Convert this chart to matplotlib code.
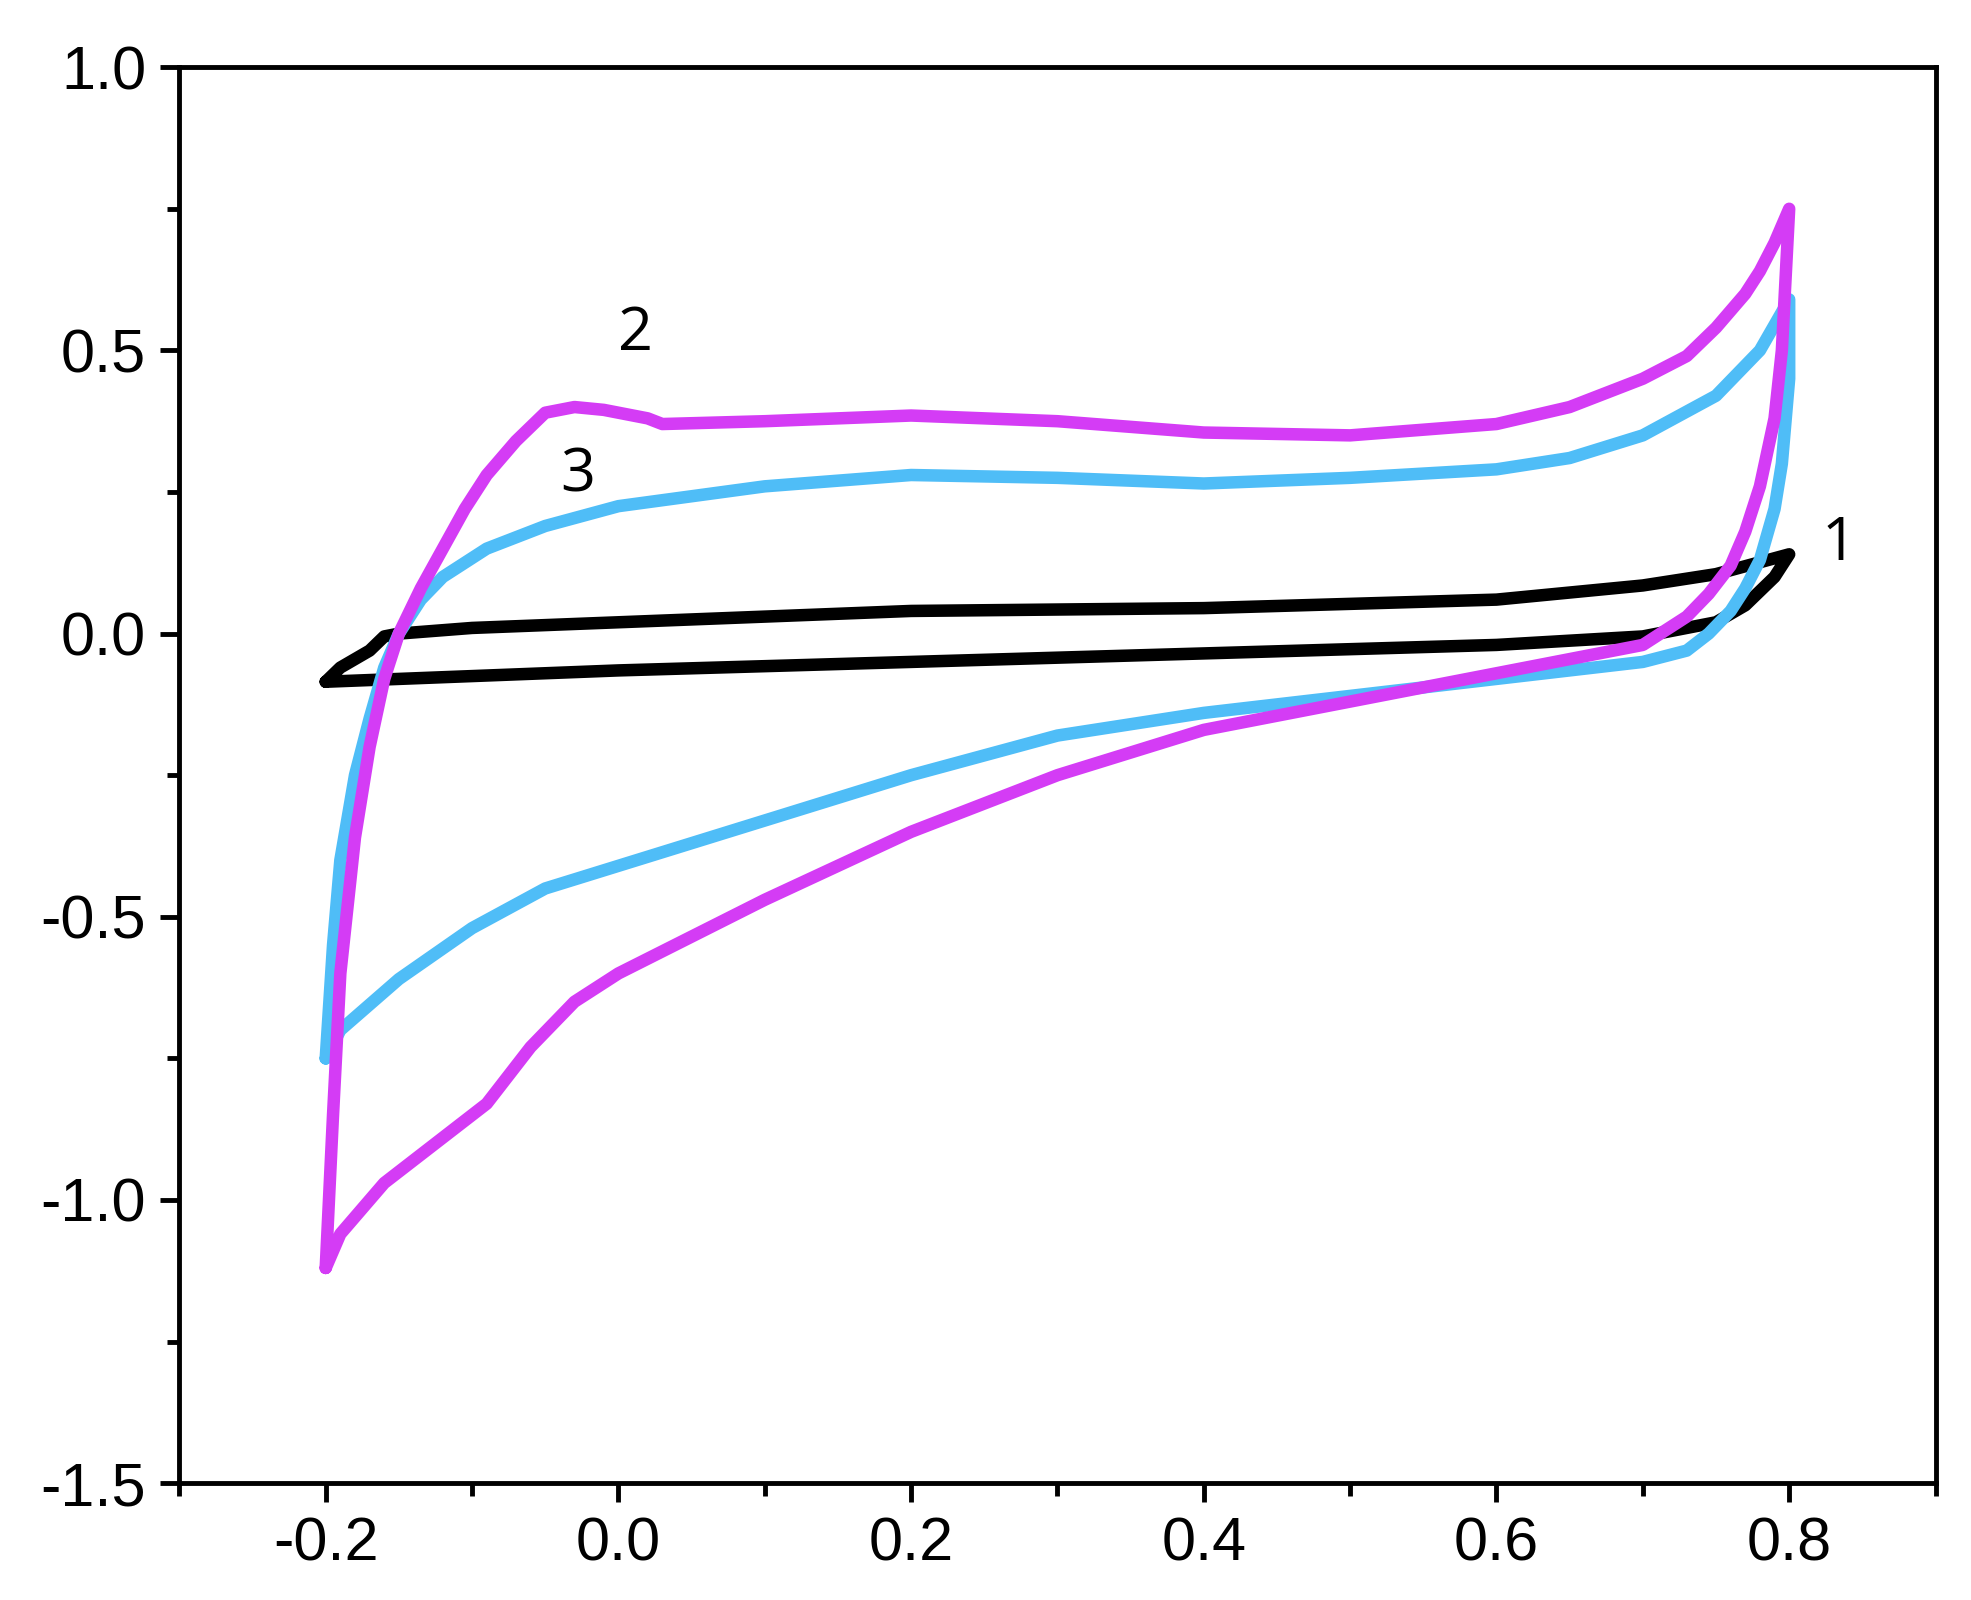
import matplotlib
matplotlib.use("Agg")
import matplotlib.pyplot as plt
import numpy as np

c2_x = [-0.2,-0.195,-0.19,-0.18,-0.17,-0.16,-0.15,-0.135,-0.12,-0.105,-0.09,-0.07,-0.05,-0.03,-0.01,0.0,0.02,0.03,0.1,0.2,0.3,0.4,0.5,0.6,0.65,0.7,0.73,0.75,0.77,0.78,0.79,0.80,
        0.795,0.79,0.78,0.77,0.76,0.745,0.73,0.7,0.6,0.5,0.4,0.3,0.2,0.1,0.0,-0.03,-0.06,-0.09,-0.12,-0.16,-0.19,-0.2]
c2_y = [-1.12,-0.85,-0.6,-0.36,-0.2,-0.08,0.0,0.08,0.15,0.22,0.28,0.34,0.39,0.40,0.395,0.39,0.38,0.37,0.375,0.385,0.375,0.355,0.35,0.37,0.40,0.45,0.49,0.54,0.60,0.64,0.69,0.75,
        0.5,0.38,0.26,0.18,0.12,0.07,0.03,-0.02,-0.07,-0.12,-0.17,-0.25,-0.35,-0.47,-0.6,-0.65,-0.73,-0.83,-0.89,-0.97,-1.06,-1.12]
c3_x = [-0.2,-0.195,-0.19,-0.18,-0.17,-0.16,-0.15,-0.135,-0.12,-0.09,-0.05,0.0,0.1,0.2,0.3,0.4,0.5,0.6,0.65,0.7,0.75,0.78,0.80,
        0.8,0.795,0.79,0.78,0.77,0.76,0.745,0.73,0.7,0.6,0.5,0.4,0.3,0.2,0.1,0.0,-0.05,-0.1,-0.15,-0.19,-0.2]
c3_y = [-0.75,-0.55,-0.4,-0.25,-0.15,-0.06,0.0,0.06,0.1,0.15,0.19,0.225,0.26,0.28,0.275,0.265,0.275,0.29,0.31,0.35,0.42,0.5,0.59,
        0.45,0.3,0.22,0.13,0.08,0.04,0.0,-0.03,-0.05,-0.08,-0.11,-0.14,-0.18,-0.25,-0.33,-0.41,-0.45,-0.52,-0.61,-0.7,-0.75]
c1_x = [-0.2,-0.19,-0.17,-0.16,-0.15,-0.1,0.0,0.2,0.4,0.6,0.7,0.75,0.8,
        0.79,0.77,0.75,0.7,0.6,0.4,0.2,0.0,-0.2]
c1_y = [-0.085,-0.06,-0.03,-0.005,0.0,0.01,0.02,0.04,0.045,0.06,0.085,0.105,0.14,
        0.1,0.05,0.02,-0.005,-0.02,-0.035,-0.05,-0.065,-0.085]

fig = plt.figure(figsize=(19.71,16), dpi=100)
ax = fig.add_axes([0.091,0.073,0.891,0.885])
kw = dict(lw=9, solid_joinstyle='round', solid_capstyle='round')
ax.plot(c1_x, c1_y, color='black', **kw)
ax.plot(c3_x, c3_y, color='#4fbdf7', **kw)
ax.plot(c2_x, c2_y, color='#d43cf5', **kw)
ax.set_xlim(-0.3,0.9); ax.set_ylim(-1.5,1.0)
ax.set_xticks(np.arange(-0.2,0.81,0.2)); ax.set_xticks(np.arange(-0.3,0.91,0.1), minor=True)
ax.set_yticks(np.arange(-1.5,1.01,0.5)); ax.set_yticks(np.arange(-1.5,1.01,0.25), minor=True)
ax.set_xticklabels(['-0.2','0.0','0.2','0.4','0.6','0.8'])
ax.set_yticklabels(['-1.5','-1.0','-0.5','0.0','0.5','1.0'])
for s in ax.spines.values(): s.set_linewidth(3.5)
ax.tick_params(which='major', direction='out', length=14, width=3.5, labelsize=44, pad=10)
ax.tick_params(which='minor', direction='out', length=9, width=3.5)
for lab in ax.get_xticklabels()+ax.get_yticklabels(): lab.set_family('Liberation Sans')
tf = dict(fontsize=44, family='Open Sans')
ax.text(0.0, 0.5, '2', **tf)
ax.text(-0.04, 0.25, '3', **tf)
ax.text(0.822, 0.13, '1', **tf)
fig.savefig('out.png')
